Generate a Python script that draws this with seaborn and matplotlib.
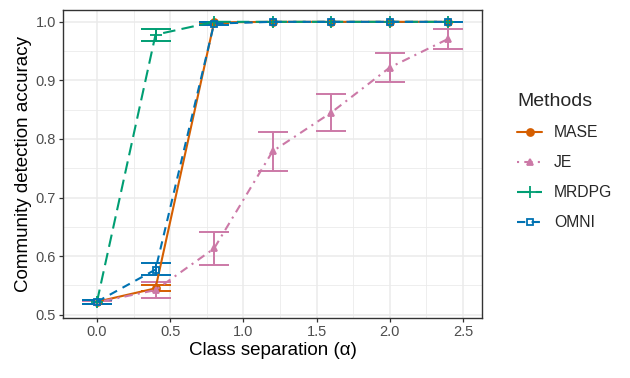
import seaborn as sns
import matplotlib.pyplot as plt
import matplotlib.ticker as mticker
import pandas as pd

# values
alpha = [0.0, 0.4, 0.8, 1.2, 1.6, 2.0, 2.4]
methods = ['MASE', 'JE', 'MRDPG', 'OMNI']

mase = [0.522, 0.545, 0.999, 1.0, 1.0, 1.0, 1.0]
mase_lo = [0.519, 0.540, 0.998, 1.0, 1.0, 1.0, 1.0]
mase_hi = [0.525, 0.551, 1.0, 1.0, 1.0, 1.0, 1.0]

je = [0.521, 0.542, 0.613, 0.779, 0.845, 0.922, 0.971]
je_lo = [0.518, 0.528, 0.585, 0.745, 0.814, 0.898, 0.954]
je_hi = [0.524, 0.555, 0.641, 0.812, 0.876, 0.946, 0.987]

mrdpg = [0.522, 0.978, 1.0, 1.0, 1.0, 1.0, 1.0]
mrdpg_lo = [0.519, 0.967, 0.999, 1.0, 1.0, 1.0, 1.0]
mrdpg_hi = [0.525, 0.988, 1.0, 1.0, 1.0, 1.0, 1.0]

omni = [0.522, 0.577, 0.997, 1.0, 1.0, 1.0, 1.0]
omni_lo = [0.519, 0.567, 0.995, 1.0, 1.0, 1.0, 1.0]
omni_hi = [0.525, 0.588, 0.999, 1.0, 1.0, 1.0, 1.0]

colors = {'MASE': '#D55E00', 'JE': '#CC79A7', 'MRDPG': '#009E73', 'OMNI': '#0072B2'}
markers = {'MASE': 'o', 'JE': '^', 'MRDPG': '+', 'OMNI': 's'}
styles = {'MASE': '-', 'JE': (0, (1, 2.5, 4, 2.5)), 'MRDPG': (0, (6, 3)), 'OMNI': (0, (4, 3))}
msizes = {'MASE': 5, 'JE': 5, 'MRDPG': 8, 'OMNI': 5}

means = {'MASE': mase, 'JE': je, 'MRDPG': mrdpg, 'OMNI': omni}
lows = {'MASE': mase_lo, 'JE': je_lo, 'MRDPG': mrdpg_lo, 'OMNI': omni_lo}
highs = {'MASE': mase_hi, 'JE': je_hi, 'MRDPG': mrdpg_hi, 'OMNI': omni_hi}

df = pd.concat([pd.DataFrame({'alpha': alpha, 'acc': means[m], 'Methods': m}) for m in methods])

sns.set_theme(style='whitegrid')
plt.rcParams['font.family'] = ['Liberation Sans', 'DejaVu Sans']

fig = plt.figure(figsize=(6.3, 3.78), dpi=100)
ax = fig.add_axes([0.1, 0.159, 0.665, 0.815])

for m in methods:
    y = means[m]
    err = [[a - b for a, b in zip(y, lows[m])], [b - a for a, b in zip(y, highs[m])]]
    ax.errorbar(alpha, y, yerr=err, fmt='none', ecolor=colors[m],
                elinewidth=1.4, capsize=10.5, capthick=1.4, zorder=3)

for m in methods:
    sub = df[df['Methods'] == m]
    face = 'none' if m == 'OMNI' else colors[m]
    sns.lineplot(data=sub, x='alpha', y='acc', color=colors[m], label=m,
                 marker=markers[m], linestyle=styles[m], linewidth=1.5,
                 markersize=msizes[m], markeredgewidth=1.3,
                 markerfacecolor=face, markeredgecolor=colors[m],
                 ax=ax, zorder=4)

ax.set_xlim(-0.232, 2.63)
ax.set_ylim(0.4945, 1.0205)
ax.xaxis.set_major_locator(mticker.MultipleLocator(0.5))
ax.xaxis.set_minor_locator(mticker.MultipleLocator(0.25))
ax.yaxis.set_major_locator(mticker.MultipleLocator(0.1))
ax.yaxis.set_minor_locator(mticker.MultipleLocator(0.05))
ax.xaxis.set_major_formatter(mticker.FormatStrFormatter('%.1f'))
ax.yaxis.set_major_formatter(mticker.FormatStrFormatter('%.1f'))

ax.grid(which='major', color='#EBEBEB', linewidth=1.1)
ax.grid(which='minor', color='#EBEBEB', linewidth=0.6)
ax.set_axisbelow(True)
for s in ax.spines.values():
    s.set_color('#333333')
    s.set_linewidth(1.0)
ax.tick_params(axis='both', which='major', length=3, width=0.9, color='#333333',
               labelsize=10.5, labelcolor='#4D4D4D', pad=2, bottom=True, left=True)
ax.tick_params(which='minor', length=0)

ax.set_xlabel('Class separation (\u03b1)', fontsize=13.5, color='black', labelpad=2)
ax.set_ylabel('Community detection accuracy', fontsize=13.5, color='black', labelpad=3)

handles, labels = ax.get_legend_handles_labels()
leg = ax.legend(handles, labels, title='Methods', loc='center left',
                bbox_to_anchor=(1.069, 0.507), frameon=False, fontsize=11.3,
                title_fontsize=14, handlelength=1.6, handletextpad=0.76,
                labelspacing=0.95, borderaxespad=0, alignment='left')

fig.savefig('out.png', dpi=100)
plt.close()
